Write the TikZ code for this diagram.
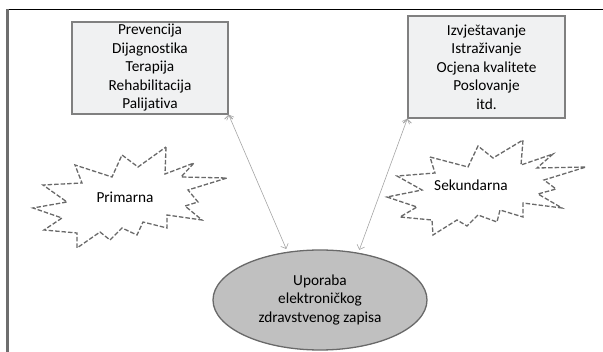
\documentclass[tikz,border=0pt]{standalone}
\usepackage{fontspec}
\setmainfont[Ligatures=NoCommon]{Carlito}
\usetikzlibrary{arrows.meta}
\usetikzlibrary{shapes}

\definecolor{boxfill}{RGB}{240,241,242}
\definecolor{boxline}{RGB}{128,128,128}
\definecolor{usefill}{RGB}{192,192,192}
\definecolor{useline}{RGB}{105,105,105}
\definecolor{burstline}{RGB}{105,105,105}
\definecolor{edgeline}{RGB}{165,165,165}
\definecolor{frameline}{RGB}{110,110,110}

\begin{document}
\begin{tikzpicture}[x=1pt, y=-1pt,
        text_font/.style={font=\fontsize{15.3}{18.5}\selectfont},
        box_style/.style={rectangle,draw=boxline,fill=boxfill,line width=1.3pt,align=center,inner sep=0pt,text_font},
        use_style/.style={ellipse,draw=useline,fill=usefill,line width=1.3pt,align=center,inner sep=0pt,minimum width=214pt,minimum height=100pt,text_font},
        burst_style/.style={draw=burstline,fill=white,line width=1.3pt,dash pattern=on 4.5pt off 2pt},
        label_style/.style={text_font},
        edge_style/.style={draw=edgeline, line width=0.6pt, >={Straight Barb[length=4pt]}, <->}]

        \useasboundingbox (0,0) rectangle (603,352);

        % frame
        \draw [black, line width=1.2pt] (7,9.5) -- (603,9.5);
        \draw [frameline, line width=2.4pt] (7.5,9) -- (7.5,352);

        \node [box_style, minimum width=156pt, minimum height=92pt](lbox) at (150,68)
            {Prevencija\\Dijagnostika\\Terapija\\Rehabilitacija\\Palijativa};
        \node [box_style, minimum width=157pt, minimum height=102pt](rbox) at (486.5,67)
            {Izvještavanje\\Istraživanje\\Ocjena kvalitete\\Poslovanje\\itd.};
        \node [use_style](use) at (320,300) {Uporaba\\elektroničkog\\zdravstvenog zapisa};

        % starbursts
        \draw [burst_style] (166,147) -- (165,174) -- (194,163) -- (181,177) -- (227,178)
            -- (188,190) -- (198,202) -- (185,206) -- (202,220) -- (167,215) -- (167,228)
            -- (143,222) -- (137,235) -- (122,228) -- (110,240) -- (100,232) -- (77,248)
            -- (77,233) -- (44,230) -- (62,218) -- (33,208) -- (67,202) -- (43,185)
            -- (82,183) -- (75,165) -- (112,177) -- (122,155) -- (138,167) -- cycle;
        \draw [burst_style] (430,157) -- (468,167) -- (478,146) -- (493,158) -- (523,140)
            -- (521,165) -- (553,154) -- (537,168) -- (586,167) -- (544,180) -- (556,189)
            -- (538,194) -- (562,208) -- (523,203) -- (523,217) -- (500,210) -- (497,222)
            -- (478,215) -- (467,226) -- (457,220) -- (433,235) -- (432,220) -- (400,217)
            -- (417,207) -- (387,197) -- (422,190) -- (397,176) -- (435,173) -- cycle;
        \node [label_style](prim) at (125,197) {Primarna};
        \node [label_style](sek) at (471,185) {Sekundarna};

        \draw [edge_style] (lbox.south east) edge[shorten >=3pt] (use.124);
        \draw [edge_style] (rbox.south west) edge[shorten >=3pt] (use.51);
        \end{tikzpicture}
\end{document}
